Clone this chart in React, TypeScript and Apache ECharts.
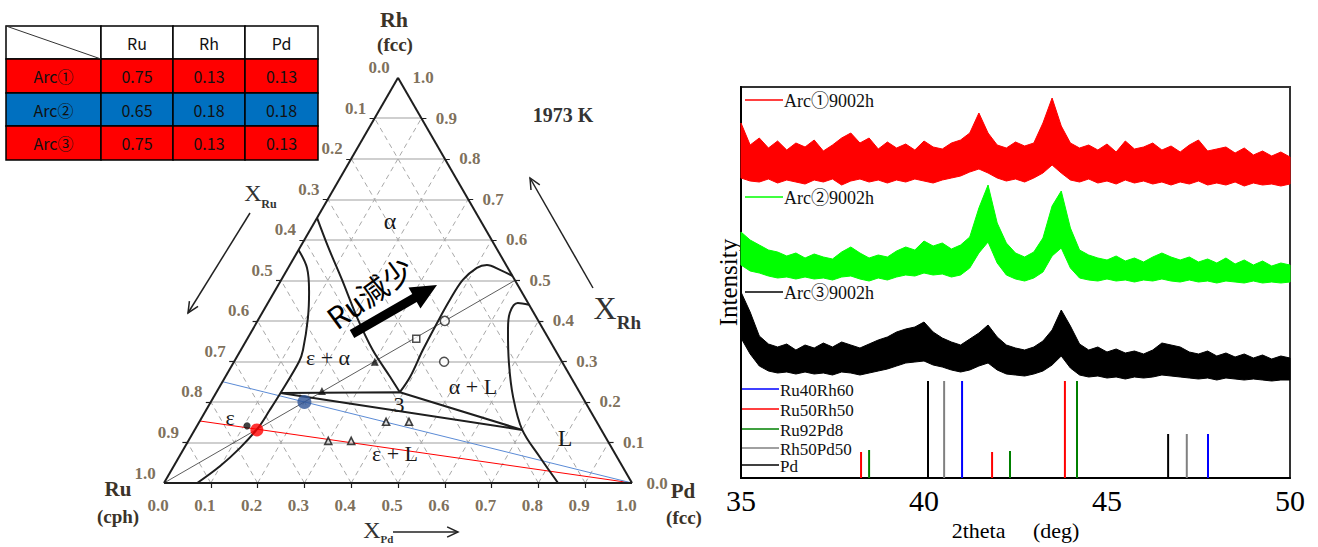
import React, { useEffect, useRef } from 'react';
import * as echarts from 'echarts';

// ---------------- Table ----------------
const tableColumns = ['Ru', 'Rh', 'Pd'];
const tableRowNames = ['Arc①', 'Arc②', 'Arc③'];
const tableValues = [
  ['0.75', '0.13', '0.13'],
  ['0.65', '0.18', '0.18'],
  ['0.75', '0.13', '0.13'],
];
const tableRowColors = ['#FF0000', '#0070C0', '#FF0000'];

// ---------------- Ternary diagram (compositions as [X_Rh, X_Pd]) ----------------
const ternaryTicks = [0, 0.1, 0.2, 0.3, 0.4, 0.5, 0.6, 0.7, 0.8, 0.9, 1.0];
const epsilonBoundary = [[0.575, 0.0], [0.531, 0.04], [0.472, 0.074], [0.407, 0.104], [0.328, 0.133], [0.299, 0.139], [0.222, 0.138], [0.18, 0.136], [0.136, 0.133], [0.086, 0.119], [0.042, 0.099], [0.0, 0.071]];
const alphaLeftBoundary = [[0.654, 0.0], [0.583, 0.059], [0.501, 0.13], [0.41, 0.207], [0.328, 0.282], [0.262, 0.352], [0.224, 0.392]];
const alphaRightBoundary = [[0.224, 0.392], [0.262, 0.395], [0.328, 0.389], [0.395, 0.386], [0.452, 0.385], [0.501, 0.388], [0.531, 0.403], [0.538, 0.421], [0.526, 0.455], [0.511, 0.489]];
const liquidBoundary = [[0.44, 0.56], [0.444, 0.534], [0.42, 0.529], [0.378, 0.546], [0.296, 0.589], [0.212, 0.64], [0.131, 0.7], [0.064, 0.771], [0.0, 0.842]];
const threePhaseTriangle = [[0.222, 0.138], [0.224, 0.392], [0.131, 0.7], [0.222, 0.138]];
const equalRhPdLine = [[0.0, 0.0], [0.5, 0.5]];
const redTieLine = [[0.153, 0.0], [0.0, 1.0]];
const blueTieLine = [[0.25, 0.0], [0.0, 1.0]];
const arcRedPoint = [[0.131, 0.133]];
const arcBluePoint = [[0.2, 0.2]];
const filledTriangles = [[0.299, 0.301], [0.227, 0.224]];
const twoPhaseTriangles = [[0.151, 0.399], [0.151, 0.448], [0.104, 0.299], [0.104, 0.348]];
const openCircles = [[0.4, 0.4], [0.299, 0.449]];
const openSquares = [[0.356, 0.361]];
const filledDots = [[0.141, 0.107]];

// ---------------- XRD ----------------
const twoTheta = [35, 35.25, 35.5, 35.75, 36, 36.25, 36.5, 36.75, 37, 37.25, 37.5, 37.75, 38, 38.25, 38.5, 38.75, 39, 39.25, 39.5, 39.75, 40, 40.25, 40.5, 40.75, 41, 41.25, 41.5, 41.75, 42, 42.25, 42.5, 42.75, 43, 43.25, 43.5, 43.75, 44, 44.25, 44.5, 44.75, 45, 45.25, 45.5, 45.75, 46, 46.25, 46.5, 46.75, 47, 47.25, 47.5, 47.75, 48, 48.25, 48.5, 48.75, 49, 49.25, 49.5, 49.75, 50];
const arc1Upper = [355, 333, 340, 330, 337, 328, 335, 331, 338, 327, 333, 340, 345, 335, 340, 329, 336, 330, 334, 328, 337, 331, 329, 335, 338, 345, 365, 345, 333, 330, 336, 332, 335, 355, 380, 352, 335, 330, 333, 328, 334, 326, 337, 329, 331, 335, 328, 332, 326, 333, 338, 327, 329, 331, 325, 330, 323, 327, 322, 326, 321];
const arc1Lower = [300, 297, 296, 299, 295, 298, 296, 294, 298, 296, 299, 293, 297, 299, 296, 298, 295, 298, 296, 299, 297, 295, 298, 300, 302, 306, 309, 305, 300, 297, 299, 296, 300, 305, 313, 305, 298, 296, 299, 295, 297, 294, 298, 295, 297, 294, 296, 293, 296, 294, 297, 293, 295, 293, 296, 292, 295, 293, 294, 292, 294];
const arc2Upper = [246, 238, 233, 228, 226, 222, 225, 220, 224, 221, 219, 226, 231, 225, 220, 223, 221, 227, 231, 228, 237, 232, 235, 229, 233, 241, 270, 293, 255, 235, 225, 221, 226, 240, 272, 287, 250, 228, 223, 220, 218, 222, 217, 220, 216, 221, 225, 221, 218, 221, 216, 219, 215, 220, 214, 218, 213, 217, 212, 215, 213];
const arc2Lower = [213, 207, 205, 202, 200, 201, 199, 201, 199, 200, 198, 201, 202, 199, 197, 200, 198, 201, 203, 202, 205, 203, 204, 201, 203, 210, 225, 236, 215, 203, 199, 197, 200, 206, 222, 230, 210, 200, 198, 197, 199, 197, 198, 196, 198, 197, 199, 197, 196, 198, 196, 197, 195, 197, 196, 195, 197, 195, 196, 195, 196];
const arc3Upper = [186, 166, 142, 134, 131, 134, 128, 133, 130, 135, 131, 136, 133, 130, 134, 138, 141, 146, 149, 151, 156, 146, 140, 136, 133, 139, 145, 153, 141, 133, 130, 128, 131, 137, 148, 168, 152, 134, 128, 131, 126, 129, 125, 127, 124, 128, 135, 133, 131, 126, 124, 127, 122, 125, 121, 124, 120, 123, 119, 122, 120];
const arc3Lower = [140, 124, 112, 107, 105, 106, 104, 106, 104, 105, 103, 106, 105, 103, 105, 107, 109, 112, 115, 116, 117, 113, 111, 108, 106, 108, 112, 115, 108, 104, 103, 102, 104, 107, 113, 122, 110, 103, 101, 102, 100, 101, 99, 101, 100, 101, 103, 102, 101, 100, 99, 100, 98, 100, 99, 98, 99, 98, 97, 98, 98];
const spectrumNames = ['Arc①9002h', 'Arc②9002h', 'Arc③9002h'];
const spectrumColors = ['#FF0000', '#00FF00', '#000000'];

const refNames = ['Ru40Rh60', 'Ru50Rh50', 'Ru92Pd8', 'Rh50Pd50', 'Pd'];
const refColors = ['#0000FF', '#FF0000', '#008000', '#808080', '#000000'];
const refRu40Rh60 = [[41.04, 97], [47.76, 44]];
const refRu50Rh50 = [[38.28, 26], [41.86, 26], [43.85, 97]];
const refRu92Pd8 = [[38.5, 28], [42.35, 27], [44.18, 97]];
const refRh50Pd50 = [[40.55, 97], [47.18, 44]];
const refPd = [[40.11, 97], [46.67, 44]];

// ---------------- helpers ----------------
const SERIF = "'Liberation Serif', 'Times New Roman', 'Noto Sans CJK JP', serif";
const SANS = "'Noto Sans CJK JP', 'Noto Sans', sans-serif";
const SQ3 = Math.sqrt(3) / 2;
const toXY = (rh: number, pd: number) => [pd + rh / 2, rh * SQ3];
const T_LEFT = 164;
const T_BOTTOM = 483;
const T_SIDE = 468;
const M = 0.05;
const TICK_COLOR = '#5c4a30';

function txt(text: string, x: number, y: number, size: number, extra: any = {}) {
  return {
    type: 'text',
    x,
    y,
    z: 50,
    rotation: extra.rotation || 0,
    style: {
      text,
      fill: extra.fill || '#1a1a1a',
      fontSize: size,
      fontFamily: extra.fontFamily || SERIF,
      fontWeight: extra.fontWeight || 'normal',
      align: extra.align || 'center',
      verticalAlign: 'middle',
      textAlign: extra.align || 'center',
      textVerticalAlign: 'middle',
    },
  };
}

function line(x1: number, y1: number, x2: number, y2: number, color: string, width: number) {
  return { type: 'line', z: 50, shape: { x1, y1, x2, y2 }, style: { stroke: color, lineWidth: width } };
}

function openArrow(x1: number, y1: number, x2: number, y2: number) {
  const a = Math.atan2(y2 - y1, x2 - x1);
  const L = 12;
  const s = (25 * Math.PI) / 180;
  const p1 = [x2 - L * Math.cos(a - s), y2 - L * Math.sin(a - s)];
  const p2 = [x2 - L * Math.cos(a + s), y2 - L * Math.sin(a + s)];
  return [
    line(x1, y1, x2, y2, '#222', 1.5),
    { type: 'polyline', z: 50, shape: { points: [p1, [x2, y2], p2] }, style: { stroke: '#222', lineWidth: 1.5, fill: 'none' } },
  ];
}

function thickArrow(x1: number, y1: number, x2: number, y2: number, shaftW: number, headL: number, headW: number) {
  const dx = x2 - x1;
  const dy = y2 - y1;
  const L = Math.hypot(dx, dy);
  const ux = dx / L;
  const uy = dy / L;
  const nx = -uy;
  const ny = ux;
  const bx = x2 - ux * headL;
  const by = y2 - uy * headL;
  const pts = [
    [x1 + (nx * shaftW) / 2, y1 + (ny * shaftW) / 2],
    [bx + (nx * shaftW) / 2, by + (ny * shaftW) / 2],
    [bx + (nx * headW) / 2, by + (ny * headW) / 2],
    [x2, y2],
    [bx - (nx * headW) / 2, by - (ny * headW) / 2],
    [bx - (nx * shaftW) / 2, by - (ny * shaftW) / 2],
    [x1 - (nx * shaftW) / 2, y1 - (ny * shaftW) / 2],
  ];
  return { type: 'polygon', z: 50, shape: { points: pts }, style: { fill: '#000' } };
}

function buildOption() {
  // --- ternary grid lines, edges, ticks ---
  const seg = (a: number[], b: number[]) => ({ coords: [a, b] });
  const gridH: any[] = [];
  const gridDiag: any[] = [];
  const ticks: any[] = [];
  const d = 5 / T_SIDE;
  ternaryTicks.slice(1, 10).forEach((k) => {
    gridH.push(seg(toXY(k, 0), toXY(k, 1 - k)));
    gridDiag.push(seg(toXY(0, k), toXY(1 - k, k)));
    gridDiag.push(seg(toXY(0, 1 - k), toXY(1 - k, 0)));
    const b = toXY(0, k);
    ticks.push(seg(b, [b[0], b[1] - d]));
    const l = toXY(1 - k, 0);
    ticks.push(seg(l, [l[0] - d, l[1]]));
    const r = toXY(k, 1 - k);
    ticks.push(seg(r, [r[0] + d, r[1]]));
  });
  const edges = [seg(toXY(0, 0), toXY(0, 1)), seg(toXY(0, 1), toXY(1, 0)), seg(toXY(1, 0), toXY(0, 0))];

  const ternLines = (data: any[], color: string, width: number, type: any = 'solid', z = 2) => ({
    type: 'lines',
    coordinateSystem: 'cartesian2d',
    xAxisIndex: 0,
    yAxisIndex: 0,
    silent: true,
    z,
    lineStyle: { color, width, type, opacity: 1 },
    data,
  });
  const curve = (pts: number[][], smooth: any) => ({
    type: 'line',
    xAxisIndex: 0,
    yAxisIndex: 0,
    smooth,
    symbol: 'none',
    silent: true,
    z: 4,
    lineStyle: { color: '#1e1e1e', width: 2 },
    data: pts.map(([rh, pd]) => toXY(rh, pd)),
  });
  const markers = (pts: number[][], symbol: string, size: number, itemStyle: any, z = 5) => ({
    type: 'scatter',
    xAxisIndex: 0,
    yAxisIndex: 0,
    symbol,
    symbolSize: size,
    silent: true,
    z,
    itemStyle,
    data: pts.map(([rh, pd]) => toXY(rh, pd)),
  });
  const tickLabels = (data: any[], offset: number[]) => ({
    type: 'scatter',
    xAxisIndex: 0,
    yAxisIndex: 0,
    symbolSize: 0,
    silent: true,
    itemStyle: { color: 'transparent' },
    label: { show: true, position: 'inside', offset, formatter: '{b}', fontFamily: SERIF, fontWeight: 'bold', fontSize: 17, color: TICK_COLOR },
    data,
  });

  const spectra = [
    [arc1Upper, arc1Lower],
    [arc2Upper, arc2Lower],
    [arc3Upper, arc3Lower],
  ];
  const spectrumSeries = spectra.map(([up, low], i) => ({
    type: 'custom',
    name: spectrumNames[i],
    xAxisIndex: 1,
    yAxisIndex: 1,
    silent: true,
    data: [[42.5, 200]],
    renderItem: (params: any, api: any) => {
      const pts: number[][] = [];
      for (let j = 0; j < twoTheta.length; j++) pts.push(api.coord([twoTheta[j], up[j]]));
      for (let j = twoTheta.length - 1; j >= 0; j--) pts.push(api.coord([twoTheta[j], low[j]]));
      return { type: 'polygon', shape: { points: pts }, style: { fill: spectrumColors[i], stroke: spectrumColors[i], lineWidth: 1 } };
    },
  }));
  const refs = [refRu40Rh60, refRu50Rh50, refRu92Pd8, refRh50Pd50, refPd];
  const stickSeries = refs.map((peaks, i) => ({
    type: 'custom',
    name: refNames[i],
    xAxisIndex: 1,
    yAxisIndex: 1,
    silent: true,
    data: peaks,
    renderItem: (params: any, api: any) => {
      const a = api.coord([api.value(0), 0]);
      const b = api.coord([api.value(0), api.value(1)]);
      return { type: 'line', shape: { x1: a[0], y1: a[1], x2: b[0], y2: b[1] }, style: { stroke: refColors[i], lineWidth: 2 } };
    },
  }));

  // --- graphics ---
  const g: any[] = [];
  const colX = [6, 101, 173, 245, 318];
  const rowY = [26, 59, 93, 126, 160];
  for (let r = 0; r < 4; r++) {
    for (let c = 0; c < 4; c++) {
      g.push({
        type: 'rect',
        z: 40,
        shape: { x: colX[c], y: rowY[r], width: colX[c + 1] - colX[c], height: rowY[r + 1] - rowY[r] },
        style: { fill: r === 0 ? '#ffffff' : tableRowColors[r - 1], stroke: '#000', lineWidth: 1.5 },
      });
      const cx = (colX[c] + colX[c + 1]) / 2;
      const cy = (rowY[r] + rowY[r + 1]) / 2;
      let t = '';
      if (r === 0 && c > 0) t = tableColumns[c - 1];
      if (r > 0 && c === 0) t = tableRowNames[r - 1];
      if (r > 0 && c > 0) t = tableValues[r - 1][c - 1];
      if (t) g.push(txt(t, cx, cy, 16, { fontFamily: SANS, fill: '#111' }));
    }
  }
  g.push(line(colX[0], rowY[0], colX[1], rowY[1], '#333', 1));

  // ternary labels
  g.push(txt('Rh', 394, 19, 22, { fontWeight: 'bold', fill: '#3b3328' }));
  g.push(txt('(fcc)', 395, 44, 19, { fontWeight: 'bold', fill: '#3b3328' }));
  g.push(txt('Ru', 118, 489, 21, { fontWeight: 'bold', fill: '#3b3328' }));
  g.push(txt('(cph)', 118, 516, 19, { fontWeight: 'bold', fill: '#3b3328' }));
  g.push(txt('Pd', 683, 491, 21, { fontWeight: 'bold', fill: '#3b3328' }));
  g.push(txt('(fcc)', 684, 517, 19, { fontWeight: 'bold', fill: '#3b3328' }));
  g.push(txt('1973 K', 563, 115, 20, { fontWeight: 'bold', fill: '#333' }));
  g.push(txt('X', 253, 193, 24, { fill: '#333' }));
  g.push(txt('Ru', 269, 204, 12, { fill: '#333', fontWeight: 'bold' }));
  g.push(txt('X', 605, 308, 32, { fill: '#333' }));
  g.push(txt('Rh', 629, 322, 19, { fill: '#333', fontWeight: 'bold' }));
  g.push(txt('X', 372, 530, 24, { fill: '#333' }));
  g.push(txt('Pd', 387, 539, 11, { fill: '#333', fontWeight: 'bold' }));
  g.push(...openArrow(250, 213, 188, 313));
  g.push(...openArrow(593, 288, 530, 178));
  g.push(...openArrow(393, 532, 458, 532));
  g.push(txt('α', 390, 221, 24));
  g.push(txt('ε + α', 328, 357, 22));
  g.push(txt('α + L', 473, 386, 22));
  g.push(txt('3', 399, 404, 22));
  g.push(txt('ε', 230, 417, 22));
  g.push(txt('ε + L', 395, 453, 22));
  g.push(txt('L', 565, 438, 24));
  g.push(thickArrow(352, 334, 437, 285, 9, 26, 24));
  g.push(txt('Ru減少', 369, 292, 30, { fontFamily: SANS, fill: '#000', rotation: (36 * Math.PI) / 180 }));

  // XRD legends
  const specLegendY = [100, 197, 292];
  spectrumNames.forEach((n, i) => {
    g.push(line(745, specLegendY[i], 783, specLegendY[i], spectrumColors[i], 1.5));
    g.push(txt(n, 784, specLegendY[i] + 1, 18, { align: 'left', fill: '#111' }));
  });
  const refLegendY = [389, 409, 429, 448, 465];
  refNames.forEach((n, i) => {
    g.push(line(742, refLegendY[i], 779, refLegendY[i], refColors[i], 1.5));
    g.push(txt(n, 780, refLegendY[i] + 1, 17, { align: 'left', fill: '#111' }));
  });

  return {
    animation: false,
    backgroundColor: '#ffffff',
    grid: [
      {
        left: T_LEFT - M * T_SIDE,
        top: T_BOTTOM - (SQ3 + M) * T_SIDE,
        width: (1 + 2 * M) * T_SIDE,
        height: (SQ3 + 2 * M) * T_SIDE,
        show: false,
      },
      { left: 741, top: 87, width: 549, height: 391, show: true, borderColor: '#333', borderWidth: 2 },
    ],
    xAxis: [
      { type: 'value', gridIndex: 0, min: -M, max: 1 + M, show: false },
      {
        type: 'value',
        gridIndex: 1,
        min: 35,
        max: 50,
        interval: 5,
        axisLine: { show: true, lineStyle: { color: '#000', width: 2 } },
        axisTick: { show: false },
        splitLine: { show: false },
        axisLabel: { fontFamily: SERIF, fontSize: 30, color: '#000', margin: 7 },
        name: '2theta\u3000 (deg)',
        nameLocation: 'middle',
        nameGap: 41,
        nameTextStyle: { fontFamily: SERIF, fontSize: 22, color: '#000' },
      },
    ],
    yAxis: [
      { type: 'value', gridIndex: 0, min: -M, max: SQ3 + M, show: false },
      {
        type: 'value',
        gridIndex: 1,
        min: 0,
        max: 391,
        axisLine: { show: true, lineStyle: { color: '#000', width: 2 } },
        axisTick: { show: false },
        axisLabel: { show: false },
        splitLine: { show: false },
        name: 'Intensity',
        nameLocation: 'middle',
        nameGap: 0,
        nameRotate: 90,
        nameTextStyle: { fontFamily: SERIF, fontSize: 25, color: '#000' },
      },
    ],
    graphic: { elements: g },
    series: [
      ternLines(gridH, '#cfcfcf', 2, 'solid', 1),
      ternLines(gridDiag, '#a8a8a8', 1, [5, 4], 1),
      ternLines(edges, '#1e1e1e', 2, 'solid', 3),
      ternLines(ticks, '#1e1e1e', 1.2, 'solid', 3),
      ternLines([seg(toXY(equalRhPdLine[0][0], equalRhPdLine[0][1]), toXY(equalRhPdLine[1][0], equalRhPdLine[1][1]))], '#333', 0.8, 'solid', 2),
      ternLines([seg(toXY(redTieLine[0][0], redTieLine[0][1]), toXY(redTieLine[1][0], redTieLine[1][1]))], '#FF0000', 1, 'solid', 2),
      ternLines([seg(toXY(blueTieLine[0][0], blueTieLine[0][1]), toXY(blueTieLine[1][0], blueTieLine[1][1]))], '#5B8BD6', 1, 'solid', 2),
      curve(epsilonBoundary, 0.35),
      curve(alphaLeftBoundary, 0.3),
      curve(alphaRightBoundary, 0.35),
      curve(liquidBoundary, 0.35),
      curve(threePhaseTriangle, false),
      markers(filledTriangles, 'triangle', 8, { color: '#111' }),
      markers(twoPhaseTriangles, 'triangle', 7, { color: '#ddd', borderColor: '#111', borderWidth: 1.6 }),
      markers(openCircles, 'circle', 9, { color: '#fff', borderColor: '#222', borderWidth: 1.5 }),
      markers(openSquares, 'rect', 7, { color: '#fff', borderColor: '#222', borderWidth: 1.5 }),
      markers(filledDots, 'circle', 7, { color: '#111' }),
      markers(arcRedPoint, 'circle', 13, { color: '#FF0000' }, 6),
      markers(arcBluePoint, 'circle', 14, { color: '#2F5597' }, 6),
      tickLabels(ternaryTicks.map((v) => ({ name: v.toFixed(1), value: toXY(0, v) })), [-6, 22]),
      tickLabels(ternaryTicks.map((v) => ({ name: v.toFixed(1), value: toXY(1 - v, 0) })), [-19, -10]),
      tickLabels(ternaryTicks.map((v) => ({ name: v.toFixed(1), value: toXY(v, 1 - v) })), [25, 0]),
      ...spectrumSeries,
      ...stickSeries,
    ],
  };
}

export default function App() {
  const ref = useRef<HTMLDivElement>(null);
  useEffect(() => {
    const chart = echarts.init(ref.current as HTMLDivElement, null, { renderer: 'svg' });
    chart.setOption(buildOption() as any);
    return () => chart.dispose();
  }, []);
  return (
    <div
      ref={ref}
      style={{ position: 'fixed', left: 0, top: 0, width: 1318, height: 547, background: '#fff' }}
    />
  );
}
